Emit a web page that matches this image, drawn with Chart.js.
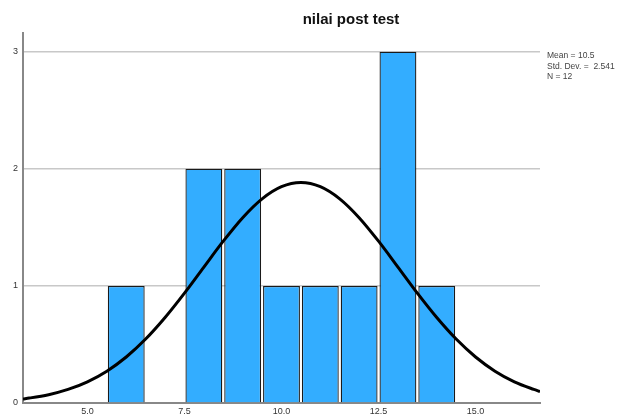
<!DOCTYPE html>
<html>
<head>
<meta charset="utf-8">
<script src="https://cdn.jsdelivr.net/npm/chart.js@4/dist/chart.umd.min.js"></script>
<style>
  html, body { margin: 0; padding: 0; background: #fff; }
  #wrap { width: 620px; height: 418px; }
</style>
</head>
<body>
<div id="wrap"><canvas id="histo"></canvas></div>
<script>
// histogram bins (bin centre, frequency)
const binCentres = [6, 8, 9, 10, 11, 12, 13, 14];
const counts = [1, 2, 2, 1, 1, 1, 3, 1];

// normal curve
const curveX = [3.34, 3.5, 4, 4.5, 5, 5.5, 6, 6.5, 7, 7.5, 8, 8.5, 9, 9.5, 10, 10.5,
                11, 11.5, 12, 12.5, 13, 13.5, 14, 14.5, 15, 15.5, 16, 16.5, 16.66];
const curveY = [0.035, 0.042, 0.071, 0.116, 0.181, 0.272, 0.393, 0.546, 0.730, 0.938, 1.161, 1.382, 1.583, 1.744, 1.848, 1.884,
                1.848, 1.744, 1.583, 1.382, 1.161, 0.938, 0.730, 0.546, 0.393, 0.272, 0.181, 0.116, 0.098];

const xTicks = [5, 7.5, 10, 12.5, 15];
const yTicks = [0, 1, 2, 3];
const statLines = ['Mean = 10.5', 'Std. Dev. =  2.541', 'N = 12'];
const chartTitle = 'nilai post test';

const FONT = 'Liberation Sans, Arial, sans-serif';

// title + stats box drawn by hand, SPSS style
const extras = {
  id: 'extras',
  afterDraw(chart) {
    const c = chart.ctx;
    c.save();
    c.fillStyle = '#111';
    c.font = 'bold 15px ' + FONT;
    c.textAlign = 'center';
    c.textBaseline = 'middle';
    c.fillText(chartTitle, 351, 20);
    c.fillStyle = '#444';
    c.font = '8.5px ' + FONT;
    c.textAlign = 'left';
    statLines.forEach((t, i) => c.fillText(t, 547, 56 + i * 10.5));
    c.restore();
  }
};

new Chart(document.getElementById('histo'), {
  data: {
    datasets: [
      {
        type: 'line',
        data: curveX.map((x, i) => ({ x: x, y: curveY[i] })),
        borderColor: '#000',
        borderWidth: 3,
        pointRadius: 0,
        cubicInterpolationMode: 'monotone',
        fill: false,
        order: 0
      },
      {
        type: 'bar',
        data: binCentres.map((x, i) => ({ x: x, y: counts[i] })),
        backgroundColor: '#33adff',
        borderColor: '#1a1a1a',
        borderWidth: 1.3,
        barPercentage: 0.95,
        categoryPercentage: 1,
        order: 1
      }
    ]
  },
  options: {
    responsive: true,
    maintainAspectRatio: false,
    animation: false,
    layout: { padding: { top: 33, right: 80, left: 0, bottom: 0 } },
    plugins: { legend: { display: false }, tooltip: { enabled: false } },
    scales: {
      x: {
        type: 'linear',
        min: 3.34,
        max: 16.66,
        offset: false,
        afterBuildTicks: s => { s.ticks = xTicks.map(v => ({ value: v })); },
        afterFit: s => { s.height = 15; },
        grid: { display: false, drawTicks: false },
        border: { color: '#888', width: 2 },
        ticks: {
          padding: 3,
          color: '#333',
          font: { family: FONT, size: 9 },
          callback: v => Number(v).toFixed(1)
        }
      },
      y: {
        min: 0,
        max: 3.16,
        afterBuildTicks: s => { s.ticks = yTicks.map(v => ({ value: v })); },
        afterFit: s => { s.width = 23; },
        grid: { color: '#c8c8c8', lineWidth: 1.5, drawTicks: false },
        border: { color: '#888', width: 2 },
        ticks: {
          padding: 5,
          color: '#333',
          font: { family: FONT, size: 9 }
        }
      }
    }
  },
  plugins: [extras]
});
</script>
</body>
</html>
